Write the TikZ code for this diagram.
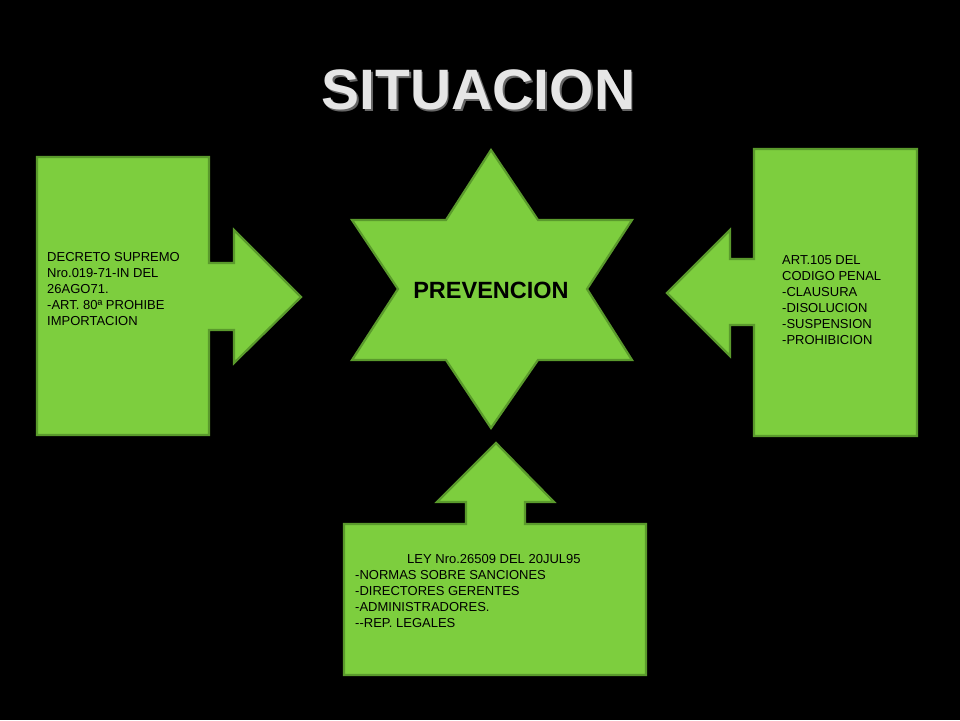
\documentclass[tikz,border=0pt]{standalone}
\usepackage{fontspec}
\setmainfont{Liberation Sans}
\definecolor{shgreen}{HTML}{7DCE3E}
\definecolor{shedge}{HTML}{5A9A2C}
\definecolor{titlegray}{HTML}{E6E6E6}
\begin{document}
\begin{tikzpicture}[x=1pt,y=-1pt,
  shp/.style={fill=shgreen,draw=shedge,line width=2.2pt,line join=miter},
  txt/.style={font=\fontsize{13}{16}\selectfont,text=black,align=left,anchor=north west,inner sep=0pt}]
\fill[black] (0,0) rectangle (960,720);
\useasboundingbox (0,0) rectangle (960,720);
% title
\node[font=\fontsize{57}{60}\selectfont\bfseries,text=black!60,inner sep=0pt] (titleshadow) at (480,91.5) {SITUACION};
\node[font=\fontsize{57}{60}\selectfont\bfseries,text=titlegray,inner sep=0pt] (title) at (478.5,90) {SITUACION};
% left callout
\draw[shp] (37,157) -- (209,157) -- (209,263) -- (234,263) -- (234,230) -- (301,297) -- (234,363) -- (234,330) -- (209,330) -- (209,435) -- (37,435) -- cycle;
% right callout
\draw[shp] (754,149) -- (917,149) -- (917,436) -- (754,436) -- (754,325) -- (730,325) -- (730,356) -- (667,293) -- (730,230) -- (730,259) -- (754,259) -- cycle;
% bottom callout
\draw[shp] (344,524) -- (466,524) -- (466,502) -- (437,502) -- (496,443) -- (554,502) -- (525,502) -- (525,524) -- (646,524) -- (646,675) -- (344,675) -- cycle;
% star
\draw[shp] (491,150) -- (538,220) -- (632,220) -- (587,289) -- (632,360) -- (538,360) -- (491,428) -- (446,360) -- (352,360) -- (398,289) -- (352,220) -- (446,220) -- cycle;
% texts
\node[font=\fontsize{23.5}{26}\selectfont\bfseries,text=black,inner sep=0pt] (prev) at (491,290) {PREVENCION};
\node[txt] (lefttext) at (47,252.3) {DECRETO SUPREMO\\Nro.019-71-IN DEL\\26AGO71.\\-ART. 80ª PROHIBE\\IMPORTACION};
\node[txt] (righttext) at (782,255.3) {ART.105 DEL\\CODIGO PENAL\\-CLAUSURA\\-DISOLUCION\\-SUSPENSION\\-PROHIBICION};
\node[txt] (bottomtext) at (355,554.3) {\hspace*{52pt}LEY Nro.26509 DEL 20JUL95\\-NORMAS SOBRE SANCIONES\\-DIRECTORES GERENTES\\-ADMINISTRADORES.\\-{}-REP. LEGALES};
\end{tikzpicture}
\end{document}
